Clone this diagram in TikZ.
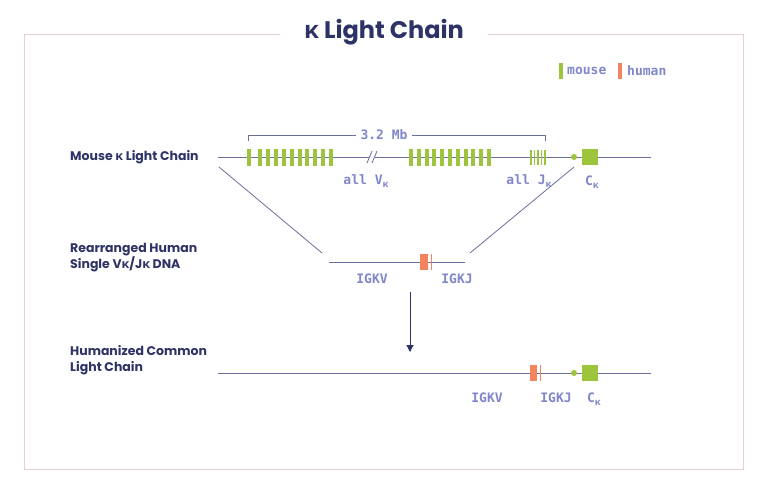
\documentclass[tikz,border=0pt]{standalone}
\usepackage{fontspec}
\setmainfont{Poppins}
\setmonofont{DejaVu Sans Mono}
\newfontfamily\kappafont{Open Sans}
\usetikzlibrary{arrows.meta, positioning, calc}
\usepackage{xcolor}
\definecolor{navy}{HTML}{2D3366}
\definecolor{strand}{HTML}{6B6F9C}
\definecolor{lavender}{HTML}{7F86C9}
\definecolor{mousegreen}{HTML}{9DC43C}
\definecolor{humanorange}{HTML}{F4845F}
\definecolor{framepink}{HTML}{E3CFCF}
\newcommand{\kp}{{\kappafont κ}}
\newcommand{\subkp}{\raisebox{-0.45ex}{\fontsize{9.5}{10}\selectfont\kappafont κ}}

\begin{document}
\begin{tikzpicture}[x=1pt, y=-1pt,
            rowlabel/.style={anchor=west, font=\bfseries\fontsize{12.5}{16}\selectfont, text=navy, align=left, inner sep=0pt},
            seglabel/.style={font=\ttfamily\bfseries\fontsize{13}{15}\selectfont, text=lavender, inner sep=1pt},
            strandline/.style={draw=strand, line width=1pt},
            mouseseg/.style={fill=mousegreen},
            humanseg/.style={fill=humanorange}]

        \useasboundingbox (0,0) rectangle (768,493);

        % frame and title
        \draw[framepink, line width=0.8pt] (24,34) rectangle (743,469);
        \node[fill=white, inner xsep=24pt, font=\bfseries\fontsize{24}{28}\selectfont, text=navy] (title) at (384,32) {\kp{} Light Chain};

        % legend
        \fill[mouseseg] (559,63) rectangle (563,79);
        \node[seglabel, anchor=west] (legmouse) at (566,71) {mouse};
        \fill[humanseg] (618,63) rectangle (622,79);
        \node[seglabel, anchor=west] (leghuman) at (626,71) {human};

        % row labels
        \node[rowlabel] (mouselbl) at (70,157) {Mouse \kp{} Light Chain};
        \node[rowlabel] (humanlbl) at (70,258) {Rearranged Human\\Single V\kp/J\kp{} DNA};
        \node[rowlabel] (commonlbl) at (70,360) {Humanized Common\\Light Chain};

        % mouse locus
        \coordinate (ms) at (218,157);
        \coordinate (me) at (651,157);
        \draw[strandline] (ms) -- (me);
        \fill[mouseseg] (246.5,149) rectangle (250.5,166);
        \foreach \i in {0,...,9}
            \fill[mouseseg] ({258+7.9*\i},149) rectangle ({262+7.9*\i},166);
        \foreach \i in {0,...,10}
            \fill[mouseseg] ({409+7.8*\i},149) rectangle ({413+7.8*\i},166);
        \foreach \i in {0,...,4}
            \fill[mouseseg] ({530+3.6*\i},150) rectangle ({531.6+3.6*\i},165);
        \fill[white] (366,164) -- (372,164) -- (378,150) -- (372,150) -- cycle;
        \draw[strand, line width=0.8pt] (367,163) -- (372,151) (372,163) -- (377,151);
        \node[circle, fill=mousegreen, inner sep=0pt, minimum size=6pt] (mdot) at (574,157) {};
        \node[mouseseg, inner sep=0pt, minimum size=16pt] (mck) at (590,157) {};

        % 3.2 Mb span
        \coordinate (brl) at (248,141);
        \coordinate (brr) at (545,141);
        \draw[strand, line width=1pt] (brl) -- ++(0,-6) -- ($(brr)+(0,-6)$) -- (brr);
        \node[seglabel, fill=white, inner xsep=5pt] (mb) at (384,135) {3.2 Mb};

        \node[seglabel] (allv) at (366,181) {all V\subkp};
        \node[seglabel] (allj) at (529,181) {all J\subkp};
        \node[seglabel] (ck1) at (592,182) {C\subkp};

        % rearranged human fragment
        \coordinate (hs) at (329,262);
        \coordinate (he) at (465,262);
        \draw[strandline] (hs) -- (he);
        \fill[humanseg] (420,254) rectangle (428,270);
        \fill[humanseg] (430.5,254) rectangle (432,270);
        \node[seglabel] (igkv1) at (372,279) {IGKV};
        \node[seglabel] (igkj1) at (457,279) {IGKJ};

        % insertion lines
        \coordinate (dl1) at (219,167);
        \coordinate (dl2) at (322,253);
        \coordinate (dr1) at (574,167);
        \coordinate (dr2) at (470,253);
        \draw[strand, line width=0.8pt] (dl1) -- (dl2);
        \draw[strand, line width=0.8pt] (dr1) -- (dr2);

        % arrow
        \coordinate (atop) at (410,292);
        \coordinate (abot) at (410,352);
        \draw[navy, line width=1pt, -{Triangle[length=7pt, width=7pt]}] (atop) -- (abot);

        % humanized locus
        \coordinate (cs) at (218,373);
        \coordinate (ce) at (651,373);
        \draw[strandline] (cs) -- (ce);
        \fill[humanseg] (530,365) rectangle (537,381);
        \fill[humanseg] (539.5,365) rectangle (541,381);
        \node[circle, fill=mousegreen, inner sep=0pt, minimum size=6pt] (cdot) at (574,373) {};
        \node[mouseseg, inner sep=0pt, minimum size=16pt] (cck) at (590,373) {};
        \node[seglabel] (igkv2) at (487,398) {IGKV};
        \node[seglabel] (igkj2) at (556,398) {IGKJ};
        \node[seglabel] (ck2) at (594,399) {C\subkp};

    \end{tikzpicture}
\end{document}
